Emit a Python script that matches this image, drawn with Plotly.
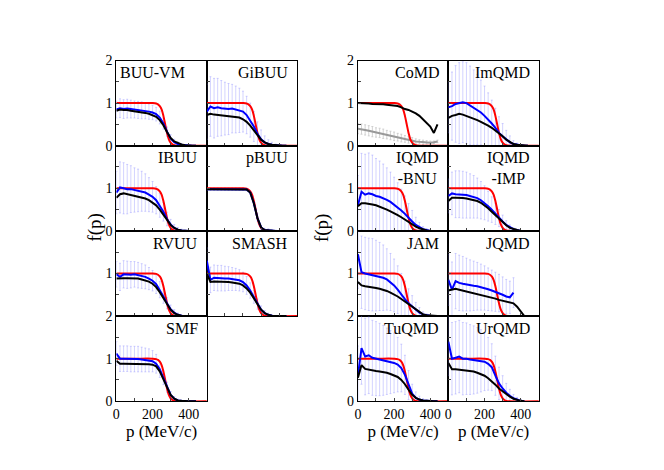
import plotly.graph_objects as go

P = [0,20,40,60,80,100,120,140,160,180,200,220,240,260,280,300,320,340,360,380,400,420,440]
RED_P = [0,100,200,220,230,240,250,260,270,280,290,300,310,320,340,500]
RED_F = [1,1,1,0.99,0.97,0.93,0.85,0.7,0.5,0.3,0.15,0.07,0.03,0.01,0,0]

BUUVM_blue = [0.85,0.88,0.86,0.87,0.86,0.85,0.84,0.83,0.82,0.8,0.78,0.74,0.66,0.52,0.33,0.17,0.08,0.04,0.02,0.01,0,0,0]
BUUVM_black = [0.82,0.85,0.84,0.84,0.82,0.81,0.8,0.78,0.77,0.75,0.72,0.68,0.6,0.48,0.32,0.18,0.1,0.06,0.03,0.01,0,0,0]
BUUVM_err = [0.2,0.22,0.22,0.22,0.21,0.2,0.2,0.2,0.19,0.18,0.17,0.16,0.15,0.13,0.11,0.09,0.07,0.05,0.03,0.01,0,0,0]
GiBUU_blue = [0.8,0.92,0.88,0.9,0.88,0.87,0.86,0.87,0.85,0.83,0.8,0.72,0.6,0.45,0.28,0.15,0.08,0.04,0.02,0.01,0,0,0]
GiBUU_black = [0.72,0.75,0.73,0.72,0.71,0.7,0.7,0.69,0.68,0.66,0.62,0.56,0.47,0.36,0.24,0.14,0.08,0.04,0.02,0.01,0,0,0]
GiBUU_err = [0.65,0.7,0.7,0.68,0.65,0.62,0.6,0.57,0.55,0.52,0.48,0.44,0.4,0.35,0.28,0.22,0.15,0.1,0.06,0.03,0.01,0,0]
IBUU_blue = [0.9,1.02,1.0,0.98,0.98,0.96,0.95,0.93,0.9,0.85,0.8,0.72,0.6,0.45,0.28,0.15,0.07,0.03,0.01,0,0,0,0]
IBUU_black = [0.78,0.86,0.88,0.86,0.85,0.83,0.81,0.79,0.76,0.72,0.67,0.6,0.5,0.38,0.25,0.14,0.07,0.03,0.01,0,0,0,0]
IBUU_err = [0.5,0.6,0.6,0.58,0.55,0.52,0.5,0.47,0.44,0.4,0.36,0.32,0.28,0.22,0.16,0.12,0.08,0.05,0.03,0.01,0,0,0]
pBUU_blue = [0.98,0.98,0.98,0.98,0.98,0.98,0.98,0.98,0.98,0.98,0.98,0.97,0.9,0.65,0.3,0.08,0.02,0.01,0,0,0,0,0]
pBUU_black = [0.98,0.98,0.98,0.98,0.98,0.98,0.98,0.98,0.98,0.98,0.98,0.97,0.9,0.65,0.3,0.08,0.02,0.01,0,0,0,0,0]
pBUU_err = [0.03,0.03,0.03,0.03,0.03,0.03,0.03,0.03,0.03,0.03,0.03,0.03,0.04,0.05,0.05,0.05,0.04,0.04,0.03,0.02,0.01,0,0]
RVUU_blue = [0.98,0.92,0.98,0.97,0.97,0.98,0.96,0.94,0.92,0.88,0.83,0.75,0.62,0.46,0.3,0.16,0.08,0.03,0.01,0,0,0,0]
RVUU_black = [0.88,0.89,0.89,0.89,0.89,0.89,0.88,0.86,0.84,0.81,0.76,0.68,0.56,0.42,0.28,0.15,0.07,0.03,0.01,0,0,0,0]
RVUU_err = [0.3,0.32,0.32,0.32,0.31,0.3,0.3,0.29,0.28,0.26,0.24,0.22,0.19,0.16,0.13,0.1,0.07,0.04,0.02,0.01,0,0,0]
SMASH_blue = [1.3,0.85,0.9,0.89,0.89,0.88,0.88,0.87,0.86,0.84,0.8,0.72,0.6,0.45,0.28,0.15,0.07,0.03,0.01,0,0,0,0]
SMASH_black = [1.0,0.8,0.81,0.81,0.81,0.81,0.8,0.79,0.78,0.76,0.72,0.65,0.55,0.42,0.28,0.15,0.07,0.03,0.01,0,0,0,0]
SMASH_err = [0.3,0.3,0.3,0.3,0.3,0.29,0.28,0.27,0.26,0.25,0.23,0.21,0.18,0.15,0.12,0.09,0.06,0.04,0.02,0.01,0,0,0]
SMF_blue = [1.12,1.0,1.0,1.0,0.99,0.99,0.99,0.98,0.97,0.96,0.94,0.88,0.75,0.55,0.33,0.15,0.06,0.02,0.01,0,0,0,0]
SMF_black = [0.95,0.88,0.88,0.88,0.88,0.88,0.88,0.88,0.88,0.87,0.86,0.82,0.7,0.52,0.32,0.15,0.06,0.02,0.01,0,0,0,0]
SMF_err = [0.28,0.3,0.3,0.3,0.3,0.3,0.3,0.29,0.28,0.27,0.25,0.22,0.19,0.16,0.12,0.08,0.05,0.03,0.01,0,0,0,0]
CoMD_black = [1.0,1.0,0.99,0.99,0.98,0.98,0.97,0.97,0.96,0.95,0.95,0.93,0.9,0.86,0.84,0.8,0.76,0.7,0.62,0.55,0.45,0.3,0.5]
CoMD_grey = [0.4,0.39,0.37,0.35,0.33,0.31,0.3,0.28,0.26,0.24,0.22,0.2,0.18,0.16,0.14,0.12,0.1,0.09,0.08,0.08,0.07,0.08,0.1]
CoMD_err = [0.12,0.12,0.12,0.12,0.12,0.11,0.11,0.11,0.1,0.1,0.1,0.09,0.09,0.08,0.08,0.07,0.06,0.05,0.05,0.04,0.04,0.03,0.03]
ImQMD_blue = [0.9,0.93,0.98,1.0,1.02,1.0,0.95,0.9,0.85,0.78,0.7,0.62,0.52,0.42,0.3,0.22,0.14,0.08,0.04,0.02,0.01,0,0]
ImQMD_black = [0.65,0.7,0.72,0.75,0.73,0.7,0.67,0.64,0.6,0.56,0.52,0.47,0.42,0.36,0.3,0.22,0.14,0.08,0.04,0.02,0.01,0,0]
ImQMD_err = [0.6,0.8,0.9,0.95,0.95,0.95,0.92,0.88,0.82,0.76,0.7,0.62,0.55,0.46,0.38,0.3,0.22,0.15,0.08,0.04,0.02,0,0]
IQMDBNU_blue = [0.6,0.92,0.85,0.88,0.86,0.82,0.8,0.77,0.73,0.68,0.62,0.56,0.48,0.4,0.3,0.22,0.14,0.08,0.04,0.02,0,0,0]
IQMDBNU_black = [0.58,0.65,0.65,0.64,0.62,0.6,0.57,0.54,0.5,0.46,0.42,0.37,0.32,0.26,0.2,0.15,0.1,0.06,0.03,0.01,0,0,0]
IQMDBNU_err = [0.7,0.9,0.95,0.95,0.92,0.88,0.84,0.8,0.75,0.7,0.64,0.57,0.5,0.42,0.34,0.26,0.18,0.12,0.06,0.03,0.01,0,0]
IQMDIMP_blue = [0.82,0.88,0.86,0.86,0.85,0.84,0.82,0.8,0.77,0.72,0.66,0.58,0.5,0.4,0.3,0.22,0.14,0.08,0.04,0.02,0,0,0]
IQMDIMP_black = [0.7,0.78,0.78,0.78,0.77,0.76,0.74,0.72,0.7,0.66,0.6,0.53,0.45,0.37,0.28,0.2,0.13,0.07,0.04,0.02,0,0,0]
IQMDIMP_err = [0.4,0.5,0.55,0.55,0.55,0.54,0.52,0.5,0.47,0.44,0.4,0.35,0.3,0.25,0.2,0.15,0.1,0.06,0.03,0.01,0,0,0]
JAM_blue = [1.45,1.03,1.0,0.98,0.97,0.95,0.93,0.9,0.86,0.8,0.72,0.62,0.5,0.4,0.3,0.22,0.14,0.08,0.04,0.02,0.01,0,0]
JAM_black = [0.8,0.72,0.7,0.69,0.68,0.66,0.64,0.62,0.59,0.55,0.51,0.46,0.4,0.34,0.28,0.2,0.14,0.08,0.04,0.02,0.01,0,0]
JAM_err = [0.8,0.85,0.85,0.85,0.85,0.83,0.8,0.77,0.72,0.67,0.62,0.56,0.5,0.42,0.34,0.26,0.18,0.12,0.06,0.03,0.01,0,0]
JQMD_blue = [0.85,0.62,0.82,0.78,0.76,0.74,0.72,0.71,0.7,0.68,0.66,0.63,0.6,0.57,0.54,0.5,0.46,0.44,0.55,None,None,None,None]
JQMD_black = [0.6,0.62,0.64,0.62,0.6,0.58,0.56,0.54,0.52,0.5,0.48,0.46,0.43,0.41,0.38,0.36,0.34,0.33,0.3,0.22,0.1,0.0,None]
JQMD_err = [0.6,0.65,0.65,0.65,0.64,0.62,0.6,0.58,0.56,0.54,0.52,0.5,0.48,0.46,0.44,0.42,0.4,0.38,0.35,None,None,None,None]
TuQMD_blue = [0.6,1.25,1.05,1.08,1.02,1.0,0.98,0.96,0.94,0.92,0.9,0.86,0.78,0.62,0.38,0.18,0.08,0.04,0.02,0.01,0.01,0,0]
TuQMD_black = [0.55,0.85,0.76,0.74,0.72,0.71,0.7,0.69,0.67,0.64,0.61,0.57,0.5,0.4,0.27,0.15,0.08,0.04,0.02,0.01,0.01,0,0]
TuQMD_err = [0.7,0.85,0.9,0.9,0.88,0.87,0.85,0.82,0.78,0.74,0.7,0.64,0.56,0.46,0.34,0.22,0.14,0.08,0.04,0.02,0.01,0,0]
UrQMD_blue = [1.4,1.0,1.02,1.05,1.0,1.0,0.98,0.97,0.96,0.95,0.93,0.88,0.8,0.6,0.42,0.3,0.2,0.13,0.07,0.04,0.01,0,None]
UrQMD_black = [0.9,0.75,0.75,0.74,0.73,0.72,0.71,0.7,0.67,0.64,0.6,0.54,0.47,0.39,0.3,0.23,0.17,0.11,0.06,0.03,0.01,0,None]
UrQMD_err = [0.8,0.85,0.85,0.85,0.85,0.84,0.82,0.8,0.77,0.73,0.68,0.62,0.55,0.46,0.38,0.3,0.22,0.15,0.09,0.05,0.02,0,None]

panels = [
    ("BUU-VM", 0, 0, 0, BUUVM_blue, BUUVM_black, BUUVM_err, "left"),
    ("GiBUU", 0, 0, 1, GiBUU_blue, GiBUU_black, GiBUU_err, "right"),
    ("IBUU", 0, 1, 0, IBUU_blue, IBUU_black, IBUU_err, "right"),
    ("pBUU", 0, 1, 1, pBUU_blue, pBUU_black, pBUU_err, "right"),
    ("RVUU", 0, 2, 0, RVUU_blue, RVUU_black, RVUU_err, "right"),
    ("SMASH", 0, 2, 1, SMASH_blue, SMASH_black, SMASH_err, "right"),
    ("SMF", 0, 3, 0, SMF_blue, SMF_black, SMF_err, "right"),
    ("", 0, 3, 1, None, None, None, "right"),
    ("CoMD", 1, 0, 0, None, CoMD_black, CoMD_err, "right"),
    ("ImQMD", 1, 0, 1, ImQMD_blue, ImQMD_black, ImQMD_err, "right"),
    ("IQMD<br>-BNU", 1, 1, 0, IQMDBNU_blue, IQMDBNU_black, IQMDBNU_err, "right"),
    ("IQMD<br>-IMP", 1, 1, 1, IQMDIMP_blue, IQMDIMP_black, IQMDIMP_err, "right"),
    ("JAM", 1, 2, 0, JAM_blue, JAM_black, JAM_err, "right"),
    ("JQMD", 1, 2, 1, JQMD_blue, JQMD_black, JQMD_err, "right"),
    ("TuQMD", 1, 3, 0, TuQMD_blue, TuQMD_black, TuQMD_err, "right"),
    ("UrQMD", 1, 3, 1, UrQMD_blue, UrQMD_black, UrQMD_err, "right"),
]

W, H = 664, 470
xpix = [[105, 196, 287], [348, 439, 530]]
ypix = [47, 135, 223, 311, 399]
FONT = "Liberation Serif"

fig = go.Figure()
layout = dict(width=W, height=H, margin=dict(l=0, r=0, t=0, b=0), showlegend=False,
              plot_bgcolor="white", paper_bgcolor="white", font=dict(family=FONT, size=14, color="black"))
annotations = []
ytickmap = {0: [0, 1, 2], 1: [0, 1], 2: [1], 3: [0, 1, 2]}

for i, (name, g, r, c, blue, black, err, side) in enumerate(panels):
    k = i + 1
    sfx = "" if k == 1 else str(k)
    xa, ya = "x" + sfx, "y" + sfx
    xd = [xpix[g][c] / W, xpix[g][c + 1] / W]
    yd = [1 - ypix[r + 1] / H, 1 - ypix[r] / H]
    bottom = r == 3
    layout["xaxis" + sfx] = dict(domain=xd, range=[0, 500], anchor=ya, showline=True, mirror=True,
                                 linecolor="black", linewidth=1, ticks="inside", ticklen=3,
                                 tickvals=[0, 100, 200, 300, 400], ticktext=["0", "", "200", "", "400"],
                                 showticklabels=bottom, showgrid=False, zeroline=False,
                                 tickfont=dict(size=14),
                                 title=dict(text="p (MeV/c)", font=dict(size=17), standoff=2) if bottom else None)
    layout["yaxis" + sfx] = dict(domain=yd, range=[0, 2], anchor=xa, showline=True, mirror=True,
                                 linecolor="black", linewidth=1, ticks="inside", ticklen=3,
                                 tickvals=[0, 0.5, 1, 1.5, 2],
                                 ticktext=[(str(v) if v in ytickmap[r] else "") for v in [0, 0.5, 1, 1.5, 2]],
                                 showticklabels=(c == 0), showgrid=False, zeroline=False,
                                 tickfont=dict(size=14))
    if err is not None:
        base = blue if blue is not None else CoMD_grey
        ecol = "rgba(200,200,200,0.8)" if blue is None else "rgba(130,130,255,0.35)"
        fig.add_trace(go.Scatter(x=P, y=base, mode="markers", marker=dict(size=1, color="rgba(0,0,0,0)"),
                                 error_y=dict(type="data", array=err, color=ecol, thickness=1, width=1),
                                 xaxis=xa, yaxis=ya))
    if name == "":
        continue
    if blue is None:
        fig.add_trace(go.Scatter(x=P, y=CoMD_grey, mode="lines", line=dict(color="#999999", width=2),
                                 xaxis=xa, yaxis=ya))
    fig.add_trace(go.Scatter(x=RED_P, y=RED_F, mode="lines", line=dict(color="red", width=2, shape="spline"),
                             xaxis=xa, yaxis=ya))
    if blue is not None:
        fig.add_trace(go.Scatter(x=P, y=blue, mode="lines", line=dict(color="blue", width=2),
                                 xaxis=xa, yaxis=ya))
    fig.add_trace(go.Scatter(x=P, y=black, mode="lines", line=dict(color="black", width=2),
                             xaxis=xa, yaxis=ya))
    if side == "left":
        annotations.append(dict(text=name, x=0.02, y=0.98, xref=xa + " domain", yref=ya + " domain",
                                xanchor="left", yanchor="top", showarrow=False, align="left",
                                font=dict(size=16, family=FONT)))
    else:
        annotations.append(dict(text=name, x=0.92, y=0.98, xref=xa + " domain", yref=ya + " domain",
                                xanchor="right", yanchor="top", showarrow=False, align="center",
                                font=dict(size=16, family=FONT)))

annotations.append(dict(text="f(p)", x=70 / W, y=1 - 220 / H, xref="paper", yref="paper", textangle=-90,
                        showarrow=False, font=dict(size=19, family=FONT)))
annotations.append(dict(text="f(p)", x=312 / W, y=1 - 220 / H, xref="paper", yref="paper", textangle=-90,
                        showarrow=False, font=dict(size=19, family=FONT)))
layout["annotations"] = annotations
fig.update_layout(**layout)
fig.write_html("out.html")
